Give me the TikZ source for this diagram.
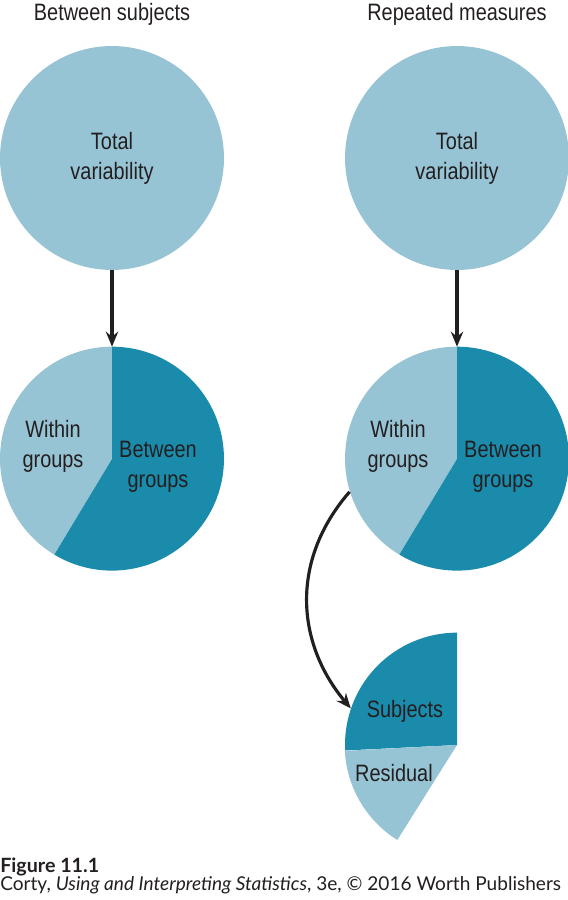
\documentclass[tikz,border=0pt]{standalone}
\usepackage{fontspec}
\setmainfont[FakeStretch=0.84]{Liberation Sans}
\newfontfamily\capfont{Lato}
\usetikzlibrary{arrows.meta}

\definecolor{lite}{RGB}{151,196,212}
\definecolor{deep}{RGB}{27,139,172}
\definecolor{ink}{RGB}{35,31,32}

\begin{document}
\begin{tikzpicture}[x = 0.02cm, y = 0.02cm]
   \tikzset{
     big/.style     = { circle,
                        minimum size = 4.48cm,
                        inner sep    = 0pt },
     tag/.style     = { font  = \fontsize{13.5}{17}\selectfont,
                        align = center,
                        text  = ink },
     link/.style    = { draw       = ink,
                        line width = 1.8pt,
                        -{Stealth[length = 8.5pt, width = 7pt]} },
     figtext/.style = { anchor    = base west,
                        inner sep = 0pt,
                        text      = ink,
                        font      = \capfont\fontsize{10.85}{13}\selectfont },
  }

  \useasboundingbox (0,0) rectangle (568,900);

  % headings
  \node [tag, anchor = base] (headL) at (112,879) {Between subjects};
  \node [tag, anchor = base] (headR) at (457,879) {Repeated measures};

  % total variability
  \node [big, tag, fill = lite] (totalL) at (112,742) {Total\\variability};
  \node [big, tag, fill = lite] (totalR) at (457,742) {Total\\variability};

  % pies
  \node [big] (pieL)  at (112,441) {};
  \node [big] (pieR)  at (457,441) {};
  \node [big] (wedge) at (457,155) {};

  \foreach \p in {pieL, pieR} {
    \fill [lite] (\p.center) -- (\p.north)
      arc [start angle = 90, end angle = 239, radius = 2.24cm] -- cycle;
    \fill [deep] (\p.center) -- (\p.north)
      arc [start angle = 90, end angle = -121, radius = 2.24cm] -- cycle;
  }

  \fill [deep] (wedge.center) -- (wedge.north)
    arc [start angle = 90, end angle = 183, radius = 2.24cm] -- cycle;
  \fill [lite] (wedge.center) -- (wedge.183)
    arc [start angle = 183, end angle = 238, radius = 2.24cm] -- cycle;

  \node [tag] (withinL)  at (53,454)  {Within\\groups};
  \node [tag] (betweenL) at (158,433) {Between\\groups};
  \node [tag] (withinR)  at (398,454) {Within\\groups};
  \node [tag] (betweenR) at (503,433) {Between\\groups};
  \node [tag] (subj)     at (405,189) {Subjects};
  \node [tag] (resid)    at (394,127) {Residual};

  % arrows
  \draw [link] (totalL) -- (pieL);
  \draw [link] (totalR) -- (pieR);
  \draw [link] (pieR.197) .. controls +(229:92) and +(130:84) .. (wedge.161);

  % caption
  \node [figtext, font = \capfont\fontsize{11.2}{13}\selectfont\bfseries] (fig)
    at (0,28) {Figure 11.1};
  \node [figtext] (credit) at (0,10)
    {Corty, \textit{Using and Interpreting Statistics}, 3e, © 2016 Worth Publishers};

\end{tikzpicture}
\end{document}
